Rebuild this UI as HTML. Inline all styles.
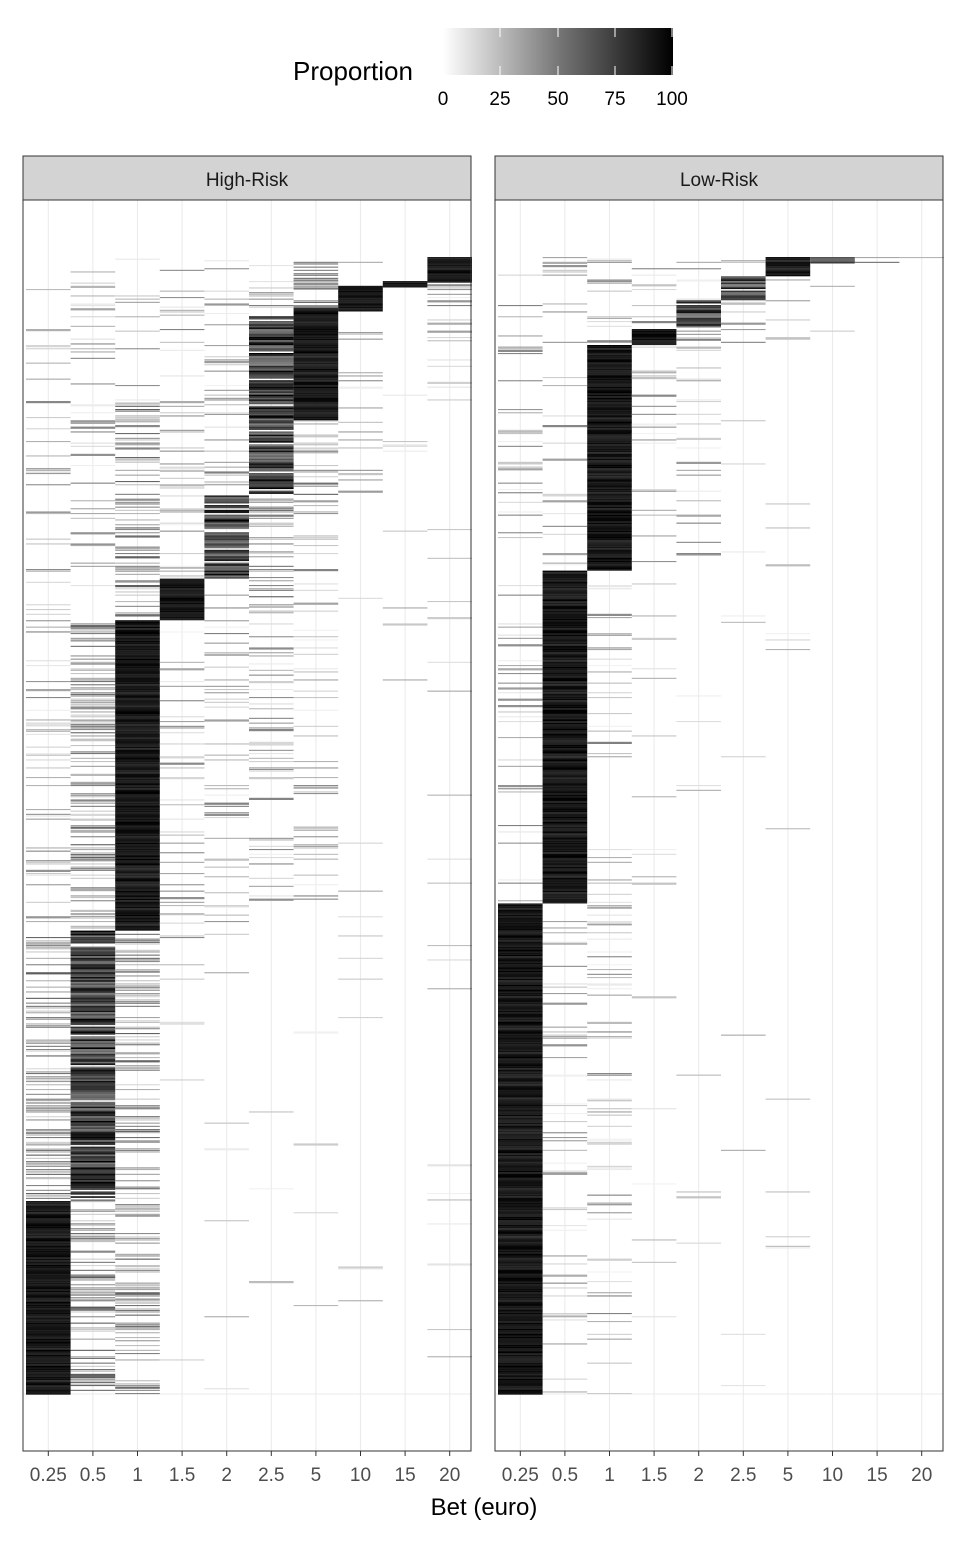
<!DOCTYPE html>
<html><head><meta charset="utf-8">
<style>
html,body{margin:0;padding:0;background:#fff;}
body{width:960px;height:1536px;overflow:hidden;font-family:"Liberation Sans",Arial,sans-serif;}
</style></head>
<body>
<svg id="s" width="960" height="1536" xmlns="http://www.w3.org/2000/svg" font-family="Liberation Sans, Arial, sans-serif">
<defs>
<linearGradient id="g" x1="0" x2="1" y1="0" y2="0">
<stop offset="0" stop-color="#fff"/><stop offset="0.5" stop-color="#777"/><stop offset="1" stop-color="#000"/>
</linearGradient>
</defs>
<text x="293" y="80" font-size="26" fill="#000">Proportion</text>
<rect x="443" y="28" width="230" height="47" fill="url(#g)"/>
<g stroke="#fff" stroke-width="1">
<line x1="443" y1="28" x2="443" y2="37"/><line x1="443" y1="66" x2="443" y2="75"/>
<line x1="500" y1="28" x2="500" y2="37"/><line x1="500" y1="66" x2="500" y2="75"/>
<line x1="558" y1="28" x2="558" y2="37"/><line x1="558" y1="66" x2="558" y2="75"/>
<line x1="615" y1="28" x2="615" y2="37"/><line x1="615" y1="66" x2="615" y2="75"/>
<line x1="672" y1="28" x2="672" y2="37"/><line x1="672" y1="66" x2="672" y2="75"/>
</g>
<g font-size="19" fill="#000" text-anchor="middle">
<text x="443" y="105">0</text><text x="500" y="105">25</text><text x="558" y="105">50</text><text x="615" y="105">75</text><text x="672" y="105">100</text>
</g>
<g id="panels"></g>
<text x="484" y="1515" font-size="24" text-anchor="middle" fill="#000">Bet (euro)</text>
</svg>
<script>
(function(){
var seed=12345;function r(){seed=(seed*1103515245+12345)&0x7fffffff;return seed/0x7fffffff;}
var NS="http://www.w3.org/2000/svg",P=document.getElementById('panels');
function el(t,a,p){var e=document.createElementNS(NS,t);for(var k in a)e.setAttribute(k,a[k]);(p||P).appendChild(e);return e;}
var T={black:[1,0.85,1],dark:[0.9,0.5,1],mid:[0.45,0.15,0.65],sparse:[0.15,0.05,0.5],faint:[0.02,0.05,0.35]};
var L=[
[[257,480,'sparse'],[480,930,'sparse'],[930,1200,'mid'],[1200,1393,'black']],
[[257,620,'sparse'],[620,930,'mid'],[930,1200,'dark'],[1200,1393,'mid']],
[[257,400,'sparse'],[400,620,'mid'],[620,930,'black'],[930,1393,'mid']],
[[257,578,'sparse'],[578,620,'black'],[620,950,'sparse'],[950,1393,'faint']],
[[257,495,'sparse'],[495,578,'dark'],[578,950,'sparse'],[950,1393,'faint']],
[[257,315,'sparse'],[315,495,'dark'],[495,620,'mid'],[620,900,'sparse'],[900,1393,'faint']],
[[257,308,'mid'],[308,420,'black'],[420,495,'mid'],[495,900,'sparse'],[900,1393,'faint']],
[[257,285,'sparse'],[285,310,'black'],[310,500,'sparse'],[500,1393,'faint']],
[[257,280,'faint'],[280,286,'black'],[286,700,'faint']],
[[257,282,'black'],[282,400,'sparse'],[400,1393,'faint']]];
var R=[
[[257,902,'sparse'],[902,1393,'black']],
[[257,570,'sparse'],[570,902,'black'],[902,1393,'sparse']],
[[257,345,'sparse'],[345,570,'black'],[570,902,'sparse'],[902,1393,'sparse']],
[[257,328,'sparse'],[328,345,'black'],[345,570,'sparse'],[570,1393,'faint']],
[[257,300,'sparse'],[300,328,'dark'],[328,560,'sparse'],[560,1393,'faint']],
[[257,275,'sparse'],[275,300,'dark'],[300,345,'sparse'],[345,1393,'faint']],
[[257,275,'black'],[275,345,'sparse'],[345,1393,'faint']],
[[257,262,'dark'],[262,345,'faint']],
[[257,262,'mid'],[262,300,'faint']],
[[257,262,'mid'],[262,300,'faint']]];
var labels=["0.25","0.5","1","1.5","2","2.5","5","10","15","20"];
function panel(x0,title,data){
 var w=448, x1=x0+w, cw=44.6, cx0=x0+3;
 el('rect',{x:x0,y:156,width:w,height:44,fill:'#d3d3d3',stroke:'#333','stroke-width':1});
 el('text',{x:x0+w/2,y:186,'font-size':19,'text-anchor':'middle',fill:'#1a1a1a'}).textContent=title;
 el('rect',{x:x0,y:200,width:w,height:1251,fill:'#fff'});
 var g=el('g',{stroke:'#ebebeb','stroke-width':1.1});
 for(var i=0;i<10;i++){var cx=cx0+cw*(i+0.5);el('line',{x1:cx,y1:200,x2:cx,y2:1451},g);}
 el('line',{x1:x0,y1:1394,x2:x1,y2:1394},g);
 var dg=el('g',{});
 for(var c=0;c<10;c++){
  var segs=data[c],x=cx0+cw*c;
  for(var y=257;y<1393;y+=1.6){
   var t=null;for(var k=0;k<segs.length;k++)if(y>=segs[k][0]&&y<segs[k][1]){t=T[segs[k][2]];break;}
   if(!t)continue;
   if(r()<t[0]){var d=t[1]+(t[2]-t[1])*r();var v=Math.round(255*(1-d));
    el('rect',{x:x.toFixed(1),y:y.toFixed(1),width:cw.toFixed(1),height:(t[0]>=0.9?1.7:(r()<0.15?2.2:1.1)),fill:'rgb('+v+','+v+','+v+')'},dg);}
  }
 }
 el('rect',{x:x0,y:200,width:w,height:1251,fill:'none',stroke:'#333','stroke-width':1});
 var tg=el('g',{stroke:'#333','stroke-width':1});
 for(var i=0;i<10;i++){var cx=cx0+cw*(i+0.5);el('line',{x1:cx,y1:1451,x2:cx,y2:1456},tg);
  el('text',{x:cx,y:1481,'font-size':19,'text-anchor':'middle',fill:'#4d4d4d'}).textContent=labels[i];}
}
panel(23,"High-Risk",L);
panel(495,"Low-Risk",R);
})();
</script>
</body></html>
